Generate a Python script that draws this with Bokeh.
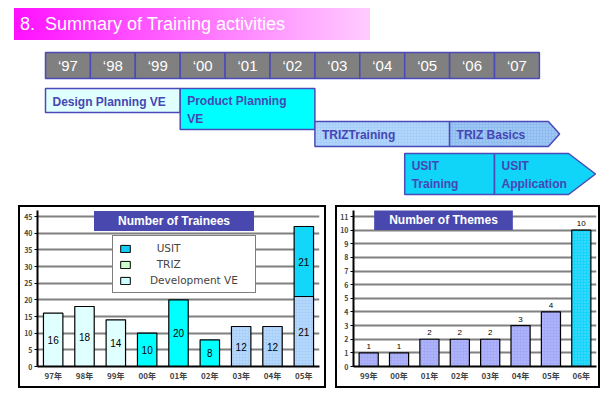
from bokeh.plotting import figure
from bokeh.models import (ColumnDataSource, Range1d, FactorRange, Div, Legend,
                          LegendItem, Label, FixedTicker)
from bokeh.layouts import column, row
from bokeh.embed import file_html
from bokeh.resources import INLINE
from bokeh.core.properties import value

# ---------------- data ----------------
title_text = "8.  Summary of Training activities"

timeline_years = [1997, 1998, 1999, 2000, 2001, 2002, 2003, 2004, 2005, 2006, 2007]
timeline_labels = ["\u201897", "\u201898", "\u201899", "\u201800", "\u201801", "\u201802",
                   "\u201803", "\u201804", "\u201805", "\u201806", "\u201807"]

phase_names = ["Design Planning VE", "Product Planning\nVE", "TRIZTraining",
               "TRIZ Basics", "USIT\nTraining", "USIT\nApplication"]
phase_start = [1997, 2000, 2003, 2006, 2005, 2007]
phase_end = [2000, 2003, 2006, 2008.2, 2007, 2008.65]
phase_arrow = [0, 0, 0, 0.25, 0, 0.6]

trainee_years = ["97年", "98年", "99年", "00年", "01年", "02年", "03年", "04年", "05年"]
trainees_dev_ve = [16, 18, 14, 10, 20, 8, 0, 0, 0]
trainees_triz = [0, 0, 0, 0, 0, 0, 12, 12, 21]
trainees_usit = [0, 0, 0, 0, 0, 0, 0, 0, 21]
trainee_series = ["USIT", "TRIZ", "Development VE"]

theme_years = ["99年", "00年", "01年", "02年", "03年", "04年", "05年", "06年"]
themes = [1, 1, 2, 2, 2, 3, 4, 10]

# ---------------- styles ----------------
BLUE_TXT = "#4646b4"
EDGE = "#4a4ab8"
phase_fill = ["#e0ffff", "#00ffff", "#a6cefa", "#8cbcf0", "#10d4f8", "#10d4f8"]
phase_hatch = [None, None, ".", ".", None, None]
# lane geometry (top, bottom) in timeline y units (downward)
lane_geo = {"Design Planning VE": (48, 72), "Product Planning\nVE": (48, 89),
            "TRIZTraining": (81, 106), "TRIZ Basics": (81, 106),
            "USIT\nTraining": (113, 154), "USIT\nApplication": (113, 154)}
HEADER = (12, 38)

SANS = value("Liberation Sans")
CJK = "Noto Sans CJK JP"

# ---------------- title ----------------
title = Div(text=title_text, width=356, height=32, margin=(0, 0, 0, 6),
            styles={"background": "linear-gradient(to right, #ff10ff, #ffccff)",
                    "color": "white", "font-family": "Liberation Sans, Arial, sans-serif",
                    "font-size": "18px", "line-height": "32px", "padding-left": "6px",
                    "box-sizing": "border-box", "white-space": "pre"})

# ---------------- timeline ----------------
CELL_PX = 44.9
TL_W, TL_H = 594, 165
x0 = timeline_years[0] - 37 / CELL_PX
tl = figure(width=TL_W, height=TL_H, output_backend="svg", toolbar_location=None,
            x_range=Range1d(x0, x0 + TL_W / CELL_PX), y_range=Range1d(TL_H, 0),
            min_border=0, outline_line_color=None, margin=(0, 0, 0, 0))
tl.axis.visible = False
tl.grid.visible = False

hdr = ColumnDataSource(dict(left=timeline_years, right=[y + 1 for y in timeline_years],
                            label=timeline_labels,
                            mid=[y + 0.5 for y in timeline_years]))
tl.quad(left="left", right="right", top=HEADER[0], bottom=HEADER[1], source=hdr,
        fill_color="#808080", line_color=EDGE, line_width=1.5)
tl.text(x="mid", y=(HEADER[0] + HEADER[1]) / 2, text="label", source=hdr,
        text_color="white", text_font=SANS, text_font_size="15px",
        text_align="center", text_baseline="middle")

for name, s, e, a, fc, hp in zip(phase_names, phase_start, phase_end, phase_arrow,
                                 phase_fill, phase_hatch):
    top, bot = lane_geo[name]
    mid = (top + bot) / 2
    kw = {}
    if hp:
        kw = dict(hatch_pattern=hp, hatch_color="#e8f2ff", hatch_alpha=0.55,
                  hatch_scale=3, hatch_weight=1)
    tl.patch(x=[s, e, e + a, e, s], y=[top, top, mid, bot, bot], fill_color=fc,
             line_color=EDGE, line_width=1.5, **kw)
    tl.text(x=[s], y=[mid + 1], text=[name], x_offset=7, text_color=BLUE_TXT,
            text_font=SANS, text_font_size="12px", text_font_style="bold",
            text_align="left", text_baseline="middle", text_line_height=1.35)

# ---------------- trainees chart ----------------
def style_axes(p):
    p.yaxis.axis_line_color = "black"
    p.yaxis.axis_line_width = 2
    p.yaxis.major_tick_line_color = "black"
    p.yaxis.major_tick_out = 3
    p.yaxis.major_tick_in = 0
    p.yaxis.minor_tick_line_color = None
    p.yaxis.major_label_text_font_size = "7px"
    p.yaxis.major_label_text_font = CJK
    p.yaxis.major_label_text_font_style = "bold"
    p.yaxis.major_label_standoff = 2
    p.xaxis.axis_line_color = "black"
    p.xaxis.axis_line_width = 2
    p.xaxis.major_tick_line_color = None
    p.xaxis.major_tick_out = 0
    p.xaxis.major_tick_in = 0
    p.xaxis.major_label_text_font_size = "8px"
    p.xaxis.major_label_text_font = CJK
    p.xaxis.major_label_text_font_style = "bold"
    p.xaxis.major_label_standoff = 3
    p.xgrid.visible = False
    p.ygrid.grid_line_color = "#808080"
    p.ygrid.grid_line_width = 2
    p.outline_line_color = None

panel_style = {"border": "2px solid black"}

p1 = figure(x_range=FactorRange(*trainee_years), y_range=Range1d(0, 46.8),
            width=308, height=183, output_backend="svg", toolbar_location=None,
            min_border_left=17, min_border_right=9, min_border_top=3,
            min_border_bottom=24, styles=panel_style, margin=(0, 0, 0, 10))
style_axes(p1)
p1.yaxis.ticker = FixedTicker(ticks=list(range(0, 46, 5)))

dev_colors = ["#e0ffff" if i < 3 else "#00ffff" for i in range(len(trainee_years))]
bottoms = [0] * len(trainee_years)
for vals, colors, hatch in [(trainees_dev_ve, dev_colors, None),
                            (trainees_triz, ["#a8d0fa"] * 9, "."),
                            (trainees_usit, ["#12d6fa"] * 9, None)]:
    xs, bs, ts, cs, ms, labs = [], [], [], [], [], []
    for i, v in enumerate(vals):
        if v > 0:
            xs.append(trainee_years[i]); bs.append(bottoms[i]); ts.append(bottoms[i] + v)
            cs.append(colors[i]); ms.append(bottoms[i] + v / 2); labs.append(str(v))
        bottoms[i] += v
    src = ColumnDataSource(dict(x=xs, b=bs, t=ts, c=cs, m=ms, lab=labs))
    kw = {}
    if hatch:
        kw = dict(hatch_pattern=hatch, hatch_color="#eef6ff", hatch_alpha=0.6,
                  hatch_scale=3, hatch_weight=1)
    p1.vbar(x="x", bottom="b", top="t", width=0.62, source=src, fill_color="c",
            line_color="black", line_width=1.2, **kw)
    p1.text(x="x", y="m", text="lab", source=src, text_font=SANS,
            text_font_size="10px", text_align="center", text_baseline="middle",
            text_color="black")

p1.add_layout(Label(x=136.5, y=145.5, x_units="screen", y_units="screen",
                    text="Number of Trainees", text_align="center", text_baseline="middle",
                    text_color="white", text_font="Liberation Sans",
                    text_font_size="12px", text_font_style="bold",
                    background_fill_color="#4848ae", padding=(24, 3)))

legend_colors = {"USIT": "#12ccf5", "TRIZ": "#ccffcc", "Development VE": "#ccffff"}
legend_labels = {"USIT": "  USIT", "TRIZ": "  TRIZ", "Development VE": "Development VE"}
nan = float("nan")
items = []
for s in trainee_series:
    r = p1.quad(left=[nan], right=[nan], top=[nan], bottom=[nan],
                fill_color=legend_colors[s], line_color="black", line_width=1)
    items.append(LegendItem(label=legend_labels[s], renderers=[r]))
leg = Legend(items=items, location=(75, 73), border_line_color="black",
             border_line_width=1, background_fill_color="white", background_fill_alpha=1,
             glyph_width=12, glyph_height=9, label_standoff=19, spacing=4, padding=6,
             label_text_font_size="10.5px", label_text_font="DejaVu Sans",
             label_height=12, label_width=99, margin=0)
p1.add_layout(leg, "center")

# ---------------- themes chart ----------------
p2 = figure(x_range=FactorRange(*theme_years), y_range=Range1d(0, 11.44),
            width=265, height=183, output_backend="svg", toolbar_location=None,
            min_border_left=15, min_border_right=6, min_border_top=3,
            min_border_bottom=23, styles=panel_style, margin=(0, 0, 0, 9))
style_axes(p2)
p2.yaxis.ticker = FixedTicker(ticks=list(range(0, 12)))

theme_colors = ["#a4aaf8"] * (len(themes) - 1) + ["#12d6fa"]
src2 = ColumnDataSource(dict(x=theme_years, t=themes, c=theme_colors,
                             lab=[str(v) for v in themes]))
p2.vbar(x="x", top="t", bottom=0, width=0.63, source=src2, fill_color="c",
        line_color="black", line_width=1.2, hatch_pattern=".", hatch_color="#d8dcff",
        hatch_alpha=0.5, hatch_scale=3, hatch_weight=1)
p2.text(x="x", y="t", text="lab", source=src2, y_offset=-4, text_font=SANS,
        text_font_size="8px", text_align="center", text_baseline="bottom",
        text_color="black")

p2.add_layout(Label(x=90, y=146.5, x_units="screen", y_units="screen",
                    text="Number of Themes", text_align="center", text_baseline="middle",
                    text_color="white", text_font="Liberation Sans",
                    text_font_size="12px", text_font_style="bold",
                    background_fill_color="#4848ae", padding=(15, 3)))

layout = column(title, tl, row(p1, p2, spacing=0), spacing=0, margin=(8, 0, 0, 8))
open("out.html", "w").write(file_html(layout, INLINE))
